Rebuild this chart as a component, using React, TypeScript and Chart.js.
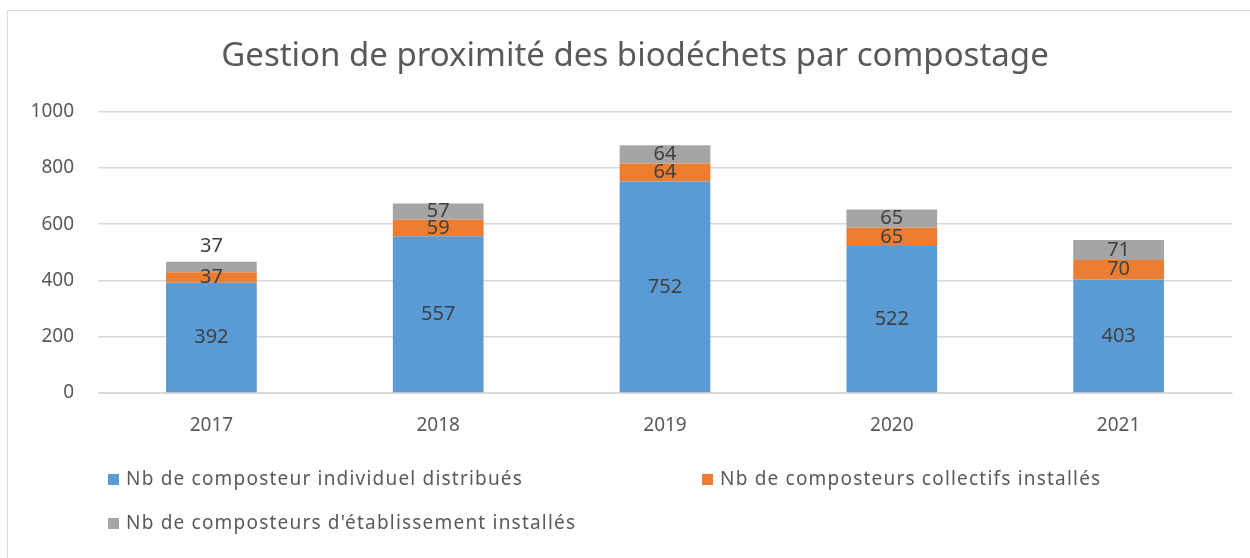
import React, { useEffect, useRef } from "react";
import { Chart, registerables } from "chart.js";

Chart.register(...registerables);

const years = ["2017", "2018", "2019", "2020", "2021"];
const individuels = [392, 557, 752, 522, 403];
const collectifs = [37, 59, 64, 65, 70];
const etablissements = [37, 57, 64, 65, 71];
const seriesNames = [
  "Nb de composteur individuel distribués",
  "Nb de composteurs collectifs installés",
  "Nb de composteurs d'établissement installés",
];
const seriesColors = ["#5B9BD5", "#ED7D31", "#A5A5A5"];
const yMin = 0;
const yMax = 1000;
const yStep = 200;
const chartTitle = "Gestion de proximité des biodéchets par compostage";

const FONT = "'Noto Sans', 'Open Sans', sans-serif";

const dataLabelPlugin = {
  id: "dataLabels",
  afterDatasetsDraw(chart: any) {
    const ctx = chart.ctx;
    ctx.save();
    ctx.font = `20px ${FONT}`;
    ctx.fillStyle = "#404040";
    ctx.textAlign = "center";
    ctx.textBaseline = "middle";
    const n = chart.data.datasets.length;
    chart.data.datasets.forEach((ds: any, i: number) => {
      const meta = chart.getDatasetMeta(i);
      meta.data.forEach((bar: any, j: number) => {
        const h = Math.abs(bar.base - bar.y);
        let cy = (bar.y + bar.base) / 2;
        if (i === n - 1 && h < 12) cy = bar.y - 16;
        ctx.fillText(String(ds.data[j]), bar.x, cy);
      });
    });
    ctx.restore();
  },
};

const legendPlugin = {
  id: "customLegend",
  afterDraw(chart: any) {
    const ctx = chart.ctx;
    const area = chart.chartArea;
    const slots = [
      { x: area.left + 10, y: area.bottom + 87 },
      { x: area.left + 604, y: area.bottom + 87 },
      { x: area.left + 10, y: area.bottom + 131 },
    ];
    ctx.save();
    ctx.font = `19px ${FONT}`;
    (ctx as any).letterSpacing = "1.2px";
    ctx.textBaseline = "middle";
    ctx.textAlign = "left";
    chart.data.datasets.forEach((ds: any, i: number) => {
      const s = slots[i];
      if (!s) return;
      ctx.fillStyle = ds.backgroundColor;
      ctx.fillRect(s.x, s.y - 6, 11, 11);
      ctx.fillStyle = "#595959";
      ctx.fillText(ds.label, s.x + 18, s.y);
    });
    ctx.restore();
  },
};

export default function App() {
  const canvasRef = useRef<HTMLCanvasElement | null>(null);

  useEffect(() => {
    const canvas = canvasRef.current;
    if (!canvas) return;
    const chart = new Chart(canvas, {
      type: "bar",
      data: {
        labels: years,
        datasets: [
          { label: seriesNames[0], data: individuels, backgroundColor: seriesColors[0] },
          { label: seriesNames[1], data: collectifs, backgroundColor: seriesColors[1] },
          { label: seriesNames[2], data: etablissements, backgroundColor: seriesColors[2] },
        ],
      },
      options: {
        responsive: false,
        animation: false,
        events: [],
        datasets: {
          bar: { categoryPercentage: 1, barPercentage: 0.4, borderWidth: 0 },
        },
        layout: { padding: { left: 38, right: 18, top: 0, bottom: 0 } },
        plugins: {
          legend: { display: false },
          tooltip: { enabled: false },
          title: {
            display: true,
            text: chartTitle,
            color: "#595959",
            font: { family: FONT, size: 33, weight: "normal", lineHeight: 1.2 },
            padding: { top: 37, bottom: 35 },
          },
        },
        scales: {
          x: {
            stacked: true,
            grid: { display: false },
            border: { display: true, color: "#D9D9D9" },
            ticks: { color: "#595959", font: { family: FONT, size: 19 }, padding: 13 },
            afterFit(scale: any) {
              scale.height = 165;
            },
          },
          y: {
            stacked: true,
            min: yMin,
            max: yMax,
            ticks: {
              stepSize: yStep,
              color: "#595959",
              font: { family: FONT, size: 19 },
              padding: 24,
              callback: (v: any) => String(v),
            },
            grid: { color: "#D9D9D9", drawTicks: false, lineWidth: 1.5 },
            border: { display: false },
            afterFit(scale: any) {
              scale.width = 60;
              // let the "1000" label extend past the axis box without being clipped
              scale._computeLabelArea = () => undefined;
            },
          },
        },
      },
      plugins: [dataLabelPlugin, legendPlugin],
    });
    return () => chart.destroy();
  }, []);

  return (
    <div
      style={{
        position: "fixed",
        left: 0,
        top: 0,
        width: 1250,
        height: 558,
        overflow: "hidden",
        background: "#FFFFFF",
      }}
    >
      <div
        style={{
          position: "absolute",
          left: 7,
          top: 10,
          width: 1300,
          height: 600,
          border: "1px solid #D9D9D9",
          boxSizing: "border-box",
        }}
      />
      <canvas
        ref={canvasRef}
        width={1250}
        height={558}
        style={{ position: "absolute", left: 0, top: 0, width: 1250, height: 558 }}
      />
    </div>
  );
}
